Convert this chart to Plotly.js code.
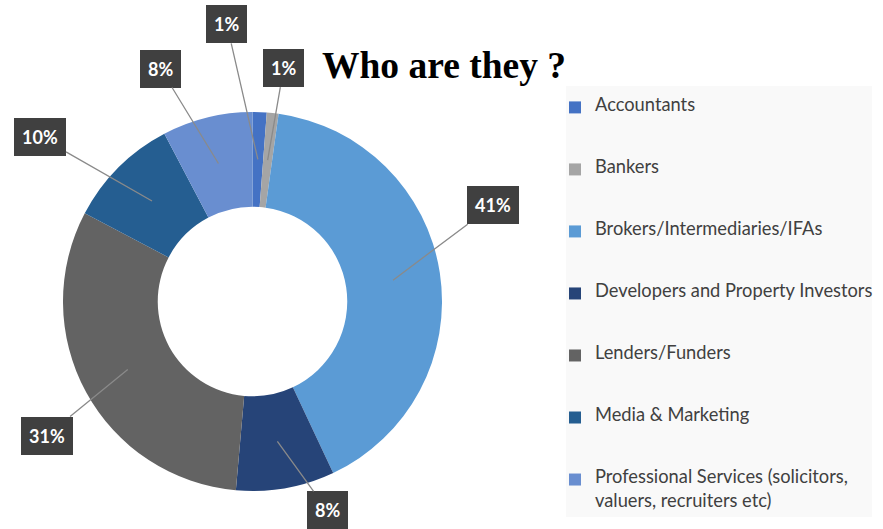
<!DOCTYPE html>
<html>
<head>
<meta charset="utf-8">
<script src="https://cdn.plot.ly/plotly-3.0.1.min.js"></script>
<style>
  html, body { margin: 0; padding: 0; background: #fff; }
  #chart { width: 883px; height: 529px; }
</style>
</head>
<body>
<div id="chart"></div>
<script>
// share of respondents (clockwise from 12 o'clock)
const categories = [
  'Accountants',
  'Bankers',
  'Brokers/Intermediaries/IFAs',
  'Developers and Property Investors',
  'Lenders/Funders',
  'Media & Marketing',
  'Professional Services (solicitors,<br>valuers, recruiters etc)'
];
const shares = [1.2, 1.0, 40.8, 8.4, 31.3, 9.6, 7.7];
const colors = ['#4472C4', '#A5A5A5', '#5B9BD5', '#264478', '#636363', '#255E91', '#698ED0'];

// where each callout box sits, in px relative to its slice
const labelOffsets = [[-31, -135], [16, -92], [100, -75], [50, 69], [-81, 66], [-112, -64], [-58, -95]];

const W = 883, H = 529;
const cx = 252.5, cy = 301.5, R = 189.5;   // donut centre / radius in px

// legend rows: legend font is tiny so each entry can be padded to the right height
function legendLabel(name, i) {
  let rows = [];
  name.split('<br>').forEach((l, k) => {
    if (k) rows.push('');
    rows.push(`<span style="font-size:18.3px">${l}</span>`);
  });
  if (i < categories.length - 1) {
    while (rows.length < 5) rows.push('\u00a0');
  }
  return rows.join('<br>');
}

let total = shares.reduce((a, b) => a + b, 0);
let annotations = [];
let cum = 0;
for (let i = 0; i < shares.length; i++) {
  let mid = (cum + shares[i] / 2) / total * 2 * Math.PI;
  cum += shares[i];
  let px = cx + 0.75 * R * Math.sin(mid);
  let py = cy - 0.75 * R * Math.cos(mid);
  annotations.push({
    x: px / W, y: 1 - py / H, xref: 'paper', yref: 'paper',
    text: Math.round(shares[i] / total * 100) + '%',
    showarrow: true, arrowhead: 0, arrowwidth: 1.3, arrowcolor: '#8a8a8a', standoff: 0,
    ax: labelOffsets[i][0], ay: labelOffsets[i][1],
    bgcolor: '#404040', borderpad: 8, borderwidth: 0,
    font: { family: 'Lato', size: 18, color: '#ffffff', weight: 'bold' }
  });
}

let data = [{
  type: 'pie',
  labels: categories.map(legendLabel),
  values: shares,
  hole: 0.5,
  sort: false,
  direction: 'clockwise',
  rotation: 0,
  textinfo: 'none',
  marker: { colors: colors, line: { width: 0 } },
  domain: { x: [(cx - R) / W, (cx + R) / W], y: [1 - (cy + R) / H, 1 - (cy - R) / H] }
}];

let layout = {
  width: W, height: H,
  margin: { l: 0, r: 0, t: 0, b: 0 },
  paper_bgcolor: '#ffffff',
  title: {
    text: '<b>Who are they ?</b>',
    font: { family: 'Liberation Serif', size: 37.5, color: '#000000' },
    x: 322 / W, xanchor: 'left', xref: 'paper',
    y: 1 - 52 / H, yanchor: 'top'
  },
  showlegend: true,
  legend: {
    x: 555 / W, xanchor: 'left', y: 1 - 95 / H, yanchor: 'top',
    bgcolor: 'rgba(0,0,0,0)', valign: 'top',
    font: { family: 'Lato', size: 9.08, color: '#404040' }
  },
  shapes: [{
    type: 'rect', xref: 'paper', yref: 'paper', layer: 'below',
    x0: 566 / W, x1: 872 / W, y0: 1 - 517 / H, y1: 1 - 86 / H,
    fillcolor: '#f9f9f9', line: { width: 0 }
  }],
  annotations: annotations
};

Plotly.newPlot('chart', data, layout, { displayModeBar: false, staticPlot: true });
</script>
</body>
</html>
